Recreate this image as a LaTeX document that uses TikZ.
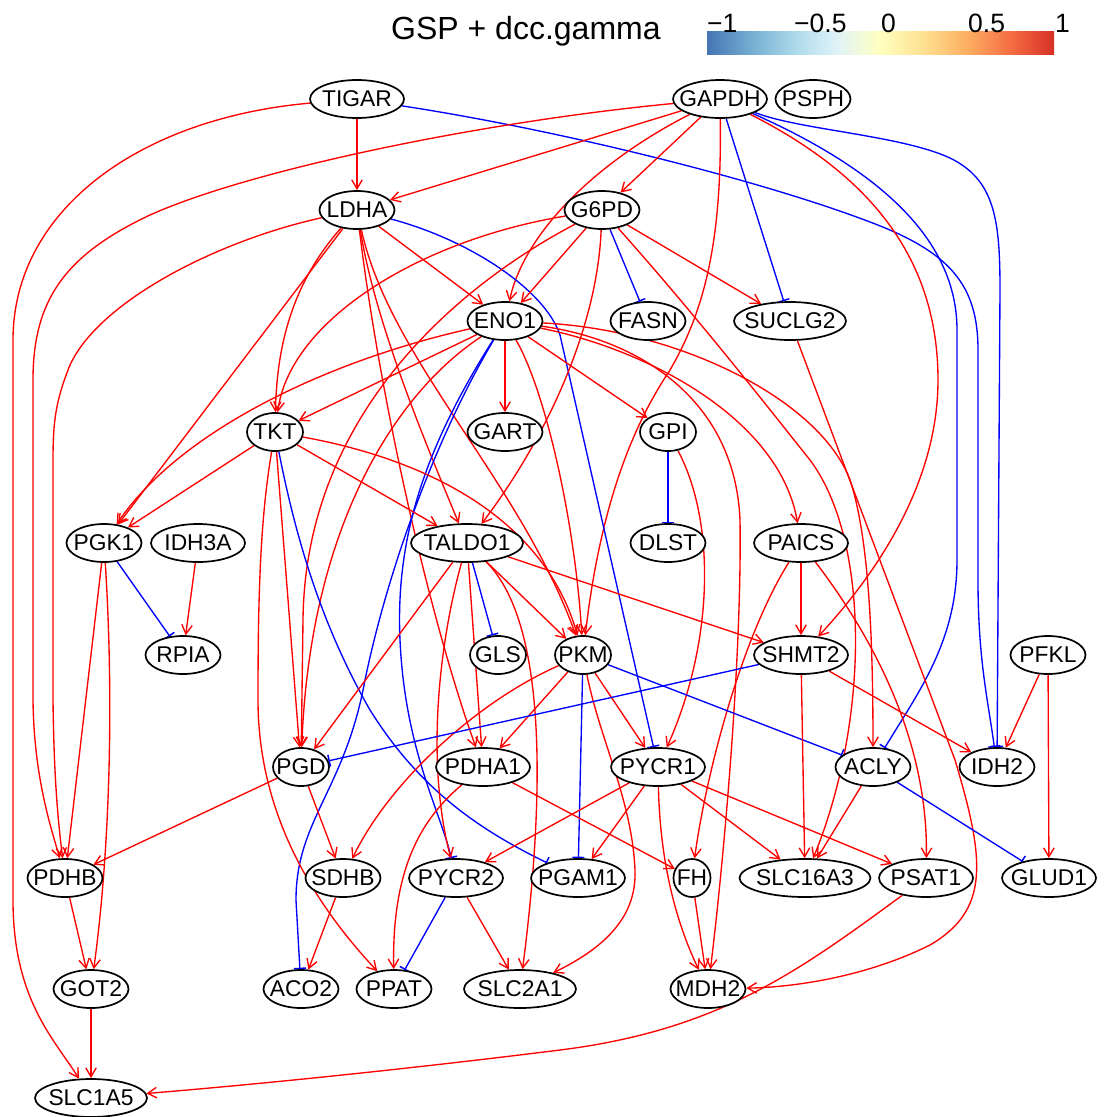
\documentclass[tikz,border=0pt]{standalone}
\usepackage{fontspec}
\setmainfont{Liberation Sans}
\usetikzlibrary{arrows.meta,shapes.geometric}
% RdYlBu palette for the colour key
\definecolor{rbA}{HTML}{4575B4}
\definecolor{rbB}{HTML}{74ADD1}
\definecolor{rbC}{HTML}{ABD9E9}
\definecolor{rbD}{HTML}{E0F3F8}
\definecolor{rbE}{HTML}{FFFFBF}
\definecolor{rbF}{HTML}{FEE090}
\definecolor{rbG}{HTML}{FDAE61}
\definecolor{rbH}{HTML}{F46D43}
\definecolor{rbI}{HTML}{D73027}
\pgfdeclarehorizontalshading{rdylbu}{100bp}{color(0bp)=(rbA); color(25bp)=(rbA); color(31.25bp)=(rbB); color(37.5bp)=(rbC); color(43.75bp)=(rbD); color(50bp)=(rbE); color(56.25bp)=(rbF); color(62.5bp)=(rbG); color(68.75bp)=(rbH); color(75bp)=(rbI); color(100bp)=(rbI)}
\pgfdeclarelayer{paper}
\pgfdeclarelayer{edges}
\pgfsetlayers{paper,edges,main}
\newcommand{\gtxt}[1]{\makebox[0pt]{#1}}
\begin{document}
\begin{tikzpicture}[x=1pt,y=-1pt,
  gene/.style={ellipse, draw=black, fill=white, line width=1.7pt, inner sep=0pt,
    minimum height=38pt, font=\fontsize{22.8}{26}\selectfont},
  g3/.style={gene, minimum width=56pt},
  g4/.style={gene, minimum width=75pt},
  g5/.style={gene, minimum width=94pt},
  g6/.style={gene, minimum width=112pt},
  g7/.style={gene, minimum width=131pt},
  act/.style={draw=red, line width=1.35pt, -{Straight Barb[length=9pt,width=10.5pt]}},
  inh/.style={draw=blue, line width=1.35pt, -{Bar[width=12pt,line width=1.5pt]}},
  keylab/.style={anchor=base west, inner sep=0pt, font=\fontsize{26.5}{30}\selectfont}]

\begin{pgfonlayer}{paper}
\fill[white] (0,0) rectangle (1107,1117);
\end{pgfonlayer}
\useasboundingbox (0,0) rectangle (1107,1117);

% colour key
\node[anchor=base west, inner sep=0pt, font=\fontsize{32}{36}\selectfont] (title) at (391,39) {GSP + dcc.gamma};
\shade[shading=rdylbu] (707,31) rectangle (1054,54);
\node[keylab] (kA) at (707,32) {−1};
\node[keylab] (kB) at (794,32) {−0.5};
\node[keylab] (kC) at (881,32) {0};
\node[keylab] (kD) at (968,32) {0.5};
\node[keylab] (kE) at (1055,32) {1};

% genes
\node[g5] (TIGAR) at (357,99) {\gtxt{TIGAR}};
\node[g5] (GAPDH) at (720,99) {\gtxt{GAPDH}};
\node[g4] (PSPH) at (813,99) {\gtxt{PSPH}};
\node[g4] (LDHA) at (357,210) {\gtxt{LDHA}};
\node[g4] (G6PD) at (602,210) {\gtxt{G6PD}};
\node[g4] (ENO1) at (505,321) {\gtxt{ENO1}};
\node[g4] (FASN) at (648,321) {\gtxt{FASN}};
\node[g6] (SUCLG2) at (790,321) {\gtxt{SUCLG2}};
\node[g3] (TKT) at (275,432) {\gtxt{TKT}};
\node[g4] (GART) at (505,432) {\gtxt{GART}};
\node[g3] (GPI) at (668,432) {\gtxt{GPI}};
\node[g4] (PGK1) at (104,543) {\gtxt{PGK1}};
\node[g5] (IDH3A) at (198,543) {\gtxt{IDH3A}};
\node[g6] (TALDO1) at (467,543) {\gtxt{TALDO1}};
\node[g4] (DLST) at (668,543) {\gtxt{DLST}};
\node[g5] (PAICS) at (801,543) {\gtxt{PAICS}};
\node[g4] (RPIA) at (183,655) {\gtxt{RPIA}};
\node[g3] (GLS) at (498,655) {\gtxt{GLS}};
\node[g3] (PKM) at (583,655) {\gtxt{PKM}};
\node[g5] (SHMT2) at (801,655) {\gtxt{SHMT2}};
\node[g4] (PFKL) at (1048,655) {\gtxt{PFKL}};
\node[g3] (PGD) at (301,767) {\gtxt{PGD}};
\node[g5] (PDHA1) at (483,767) {\gtxt{PDHA1}};
\node[g5] (PYCR1) at (658,767) {\gtxt{PYCR1}};
\node[g4] (ACLY) at (873,767) {\gtxt{ACLY}};
\node[g4] (IDH2) at (997,767) {\gtxt{IDH2}};
\node[g4] (PDHB) at (65,878) {\gtxt{PDHB}};
\node[g4] (SDHB) at (343,878) {\gtxt{SDHB}};
\node[g5] (PYCR2) at (456,878) {\gtxt{PYCR2}};
\node[g5] (PGAM1) at (578,878) {\gtxt{PGAM1}};
\node[gene, minimum width=37pt] (FH) at (692,878) {\gtxt{FH}};
\node[g7] (SLC16A3) at (805,878) {\gtxt{SLC16A3}};
\node[g5] (PSAT1) at (926,878) {\gtxt{PSAT1}};
\node[g5] (GLUD1) at (1049,878) {\gtxt{GLUD1}};
\node[g4] (GOT2) at (91,989) {\gtxt{GOT2}};
\node[g4] (ACO2) at (301,989) {\gtxt{ACO2}};
\node[g4] (PPAT) at (394,989) {\gtxt{PPAT}};
\node[g6] (SLC2A1) at (520,989) {\gtxt{SLC2A1}};
\node[g4] (MDH2) at (708,989) {\gtxt{MDH2}};
\node[g6] (SLC1A5) at (91,1098) {\gtxt{SLC1A5}};

\begin{pgfonlayer}{edges}
% TIGAR
\draw[act] (TIGAR) -- (LDHA);
\draw[act] (TIGAR) .. controls (140,118) and (13,210) .. (13,340) -- (13,900) .. controls (13,1000) and (55,1040) .. (SLC1A5);
\draw[inh] (TIGAR) .. controls (560,130) and (760,180) .. (870,222) .. controls (950,252) and (978,285) .. (978,350) -- (978,580) .. controls (978,660) and (988,700) .. (IDH2);
% GAPDH
\draw[act] (GAPDH) -- (LDHA);
\draw[act] (GAPDH) .. controls (480,122) and (250,170) .. (150,215) .. controls (65,255) and (33,300) .. (33,380) -- (33,700) .. controls (34,780) and (52,830) .. (PDHB);
\draw[act] (GAPDH) -- (G6PD);
\draw[act] (GAPDH) .. controls (600,160) and (525,230) .. (ENO1);
\draw[act] (GAPDH) .. controls (722,240) and (705,310) .. (670,370) .. controls (640,415) and (602,490) .. (PKM);
\draw[inh] (GAPDH) -- (SUCLG2);
\draw[act] (GAPDH) .. controls (860,170) and (938,250) .. (938,380) .. controls (938,480) and (880,570) .. (SHMT2);
\draw[inh] (GAPDH) .. controls (880,170) and (957,240) .. (957,330) -- (957,560) .. controls (957,640) and (920,690) .. (ACLY);
\draw[inh] (GAPDH) .. controls (800,130) and (900,135) .. (950,158) .. controls (995,180) and (1000,220) .. (1000,290) -- (IDH2);
% LDHA
\draw[act] (LDHA) .. controls (220,240) and (100,300) .. (70,365) .. controls (56,400) and (53,420) .. (53,460) -- (53,700) .. controls (54,780) and (58,820) .. (PDHB);
\draw[act] (LDHA) -- (PGK1);
\draw[act] (LDHA) .. controls (295,280) and (277,340) .. (TKT);
\draw[act] (LDHA) -- (ENO1);
\draw[inh] (LDHA) .. controls (470,240) and (545,290) .. (560,335) -- (PYCR1);
\draw[act] (LDHA) .. controls (375,320) and (420,430) .. (TALDO1);
\draw[act] (LDHA) .. controls (380,400) and (430,620) .. (PDHA1);
\draw[act] (LDHA) .. controls (390,360) and (520,480) .. (PKM);
% G6PD
\draw[act] (G6PD) .. controls (420,240) and (290,320) .. (TKT);
\draw[act] (G6PD) .. controls (450,290) and (305,420) .. (303,620) -- (PGD);
\draw[act] (G6PD) -- (ENO1);
\draw[act] (G6PD) .. controls (597,330) and (545,440) .. (TALDO1);
\draw[inh] (G6PD) -- (FASN);
\draw[act] (G6PD) -- (SUCLG2);
\draw[act] (G6PD) .. controls (700,320) and (770,410) .. (810,460) .. controls (870,540) and (870,720) .. (SLC16A3);
% ENO1
\draw[act] (ENO1) -- (TKT);
\draw[act] (ENO1) .. controls (330,360) and (180,430) .. (PGK1);
\draw[act] (ENO1) .. controls (400,390) and (310,520) .. (PGD);
\draw[act] (ENO1) -- (GART);
\draw[act] (ENO1) -- (GPI);
\draw[act] (ENO1) .. controls (545,390) and (575,520) .. (PKM);
\draw[inh] (ENO1) .. controls (440,430) and (390,560) .. (365,680) .. controls (345,790) and (296,820) .. (296,900) -- (ACO2);
\draw[inh] (ENO1) .. controls (430,440) and (395,530) .. (400,640) .. controls (405,750) and (440,810) .. (PYCR2);
\draw[act] (ENO1) .. controls (650,350) and (780,420) .. (PAICS);
\draw[act] (ENO1) .. controls (640,340) and (735,400) .. (740,520) .. controls (742,650) and (725,850) .. (MDH2);
\draw[act] (ENO1) .. controls (680,330) and (820,400) .. (850,480) .. controls (870,540) and (873,650) .. (ACLY);
% SUCLG2
\draw[act] (SUCLG2) -- (955,760) .. controls (985,860) and (990,910) .. (930,945) .. controls (870,975) and (800,987) .. (MDH2);
% TKT
\draw[act] (TKT) -- (PGK1);
\draw[act] (TKT) -- (TALDO1);
\draw[act] (TKT) .. controls (430,460) and (545,520) .. (PKM);
\draw[act] (TKT) -- (PGD);
\draw[act] (TKT) .. controls (260,520) and (258,600) .. (258,700) .. controls (258,820) and (320,910) .. (PPAT);
\draw[inh] (TKT) .. controls (300,560) and (330,640) .. (370,710) .. controls (420,790) and (480,830) .. (PGAM1);
% GPI
\draw[inh] (GPI) -- (DLST);
\draw[act] (GPI) .. controls (715,520) and (715,640) .. (PYCR1);
% PGK1, IDH3A
\draw[inh] (PGK1) -- (RPIA);
\draw[act] (PGK1) -- (PDHB);
\draw[act] (PGK1) .. controls (114,700) and (110,850) .. (GOT2);
\draw[act] (IDH3A) -- (RPIA);
% TALDO1
\draw[act] (TALDO1) -- (PGD);
\draw[act] (TALDO1) .. controls (440,640) and (425,760) .. (PYCR2);
\draw[act] (TALDO1) -- (PDHA1);
\draw[inh] (TALDO1) -- (GLS);
\draw[act] (TALDO1) -- (PKM);
\draw[act] (TALDO1) .. controls (535,610) and (552,740) .. (SLC2A1);
\draw[act] (TALDO1) -- (SHMT2);
% PAICS
\draw[act] (PAICS) -- (SHMT2);
\draw[act] (PAICS) .. controls (740,640) and (705,780) .. (FH);
\draw[act] (PAICS) .. controls (890,660) and (928,760) .. (PSAT1);
% PKM
\draw[act] (PKM) -- (PYCR1);
\draw[inh] (PKM) -- (PGAM1);
\draw[inh] (PKM) -- (ACLY);
\draw[act] (PKM) -- (PDHA1);
\draw[act] (PKM) .. controls (480,700) and (390,780) .. (SDHB);
\draw[act] (PKM) .. controls (600,740) and (632,800) .. (635,870) .. controls (637,920) and (600,950) .. (SLC2A1);
% SHMT2, PFKL
\draw[inh] (SHMT2) -- (PGD);
\draw[act] (SHMT2) -- (SLC16A3);
\draw[act] (SHMT2) -- (IDH2);
\draw[act] (PFKL) -- (IDH2);
\draw[act] (PFKL) -- (GLUD1);
% PGD, PDHA1
\draw[act] (PGD) -- (PDHB);
\draw[act] (PGD) -- (SDHB);
\draw[act] (PDHA1) -- (FH);
\draw[act] (PDHA1) .. controls (420,820) and (392,870) .. (PPAT);
% PYCR1
\draw[act] (PYCR1) -- (PYCR2);
\draw[act] (PYCR1) -- (PGAM1);
\draw[act] (PYCR1) .. controls (660,860) and (675,920) .. (MDH2);
\draw[act] (PYCR1) -- (SLC16A3);
\draw[act] (PYCR1) -- (PSAT1);
% ACLY
\draw[act] (ACLY) -- (SLC16A3);
\draw[inh] (ACLY) -- (GLUD1);
% lower rows
\draw[act] (PDHB) -- (GOT2);
\draw[act] (SDHB) -- (ACO2);
\draw[inh] (PYCR2) -- (PPAT);
\draw[act] (PYCR2) -- (SLC2A1);
\draw[act] (FH) -- (MDH2);
\draw[act] (PSAT1) .. controls (800,970) and (720,1030) .. (560,1050) .. controls (400,1070) and (250,1085) .. (SLC1A5);
\draw[act] (GOT2) -- (SLC1A5);
\end{pgfonlayer}
\end{tikzpicture}
\end{document}
